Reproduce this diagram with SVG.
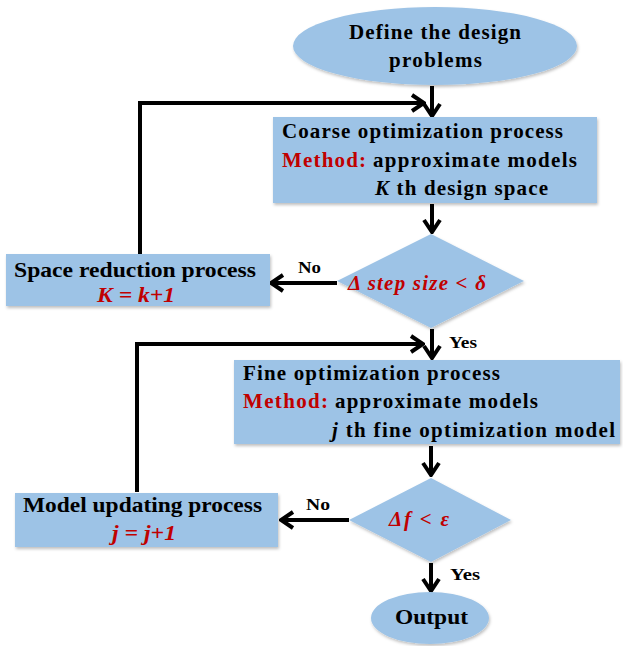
<svg xmlns="http://www.w3.org/2000/svg" width="623" height="646" viewBox="0 0 623 646">
<defs>
<style>
.shape{fill:#9DC3E6;filter:url(#sh)}
.t{font-family:"Liberation Serif","Times New Roman",serif;font-weight:bold;font-size:21px;fill:#000}
.b{font-size:22px}
.s{font-family:"Liberation Serif","Times New Roman",serif;font-weight:bold;font-size:16px;fill:#000}
.r{fill:#C00000}
.i{font-style:italic}
.ln{fill:none;stroke:#000;stroke-width:4}
</style>
<filter id="sh" x="-10%" y="-10%" width="120%" height="130%">
<feDropShadow dx="1" dy="2" stdDeviation="1.5" flood-color="#000" flood-opacity="0.25"/>
</filter>
<marker id="ah" viewBox="0 0 16 20" markerWidth="16" markerHeight="20" refX="14" refY="10" orient="auto" markerUnits="userSpaceOnUse">
<path d="M2,2 L14,10 L2,18" fill="none" stroke="#000" stroke-width="4" stroke-linejoin="miter"/>
</marker>
</defs>
<rect width="623" height="646" fill="#fff"/>

<g id="connectors">
<line class="ln" x1="432" y1="86" x2="432" y2="116" marker-end="url(#ah)"/>
<polyline class="ln" points="140,254 140,103 424,103" marker-end="url(#ah)"/>
<line class="ln" x1="432" y1="204" x2="432" y2="232" marker-end="url(#ah)"/>
<line class="ln" x1="337" y1="283" x2="271" y2="283" marker-end="url(#ah)"/>
<line class="ln" x1="432" y1="329" x2="432" y2="358" marker-end="url(#ah)"/>
<polyline class="ln" points="137,492 137,344 423,344" marker-end="url(#ah)"/>
<line class="ln" x1="431" y1="446" x2="431" y2="475" marker-end="url(#ah)"/>
<line class="ln" x1="349" y1="520" x2="281" y2="520" marker-end="url(#ah)"/>
<line class="ln" x1="431" y1="563" x2="431" y2="591" marker-end="url(#ah)"/>
<text class="s" x="298" y="273" textLength="23" lengthAdjust="spacingAndGlyphs">No</text>
<text class="s" x="449" y="348" textLength="28" lengthAdjust="spacingAndGlyphs">Yes</text>
<text class="s" x="306" y="510" textLength="24" lengthAdjust="spacingAndGlyphs">No</text>
<text class="s" x="450" y="580" textLength="30" lengthAdjust="spacingAndGlyphs">Yes</text>
</g>

<g id="start">
<ellipse class="shape" cx="435" cy="46" rx="142" ry="39"/>
<text class="t" x="349" y="39" textLength="172" lengthAdjust="spacing">Define the design</text>
<text class="t" x="389" y="67" textLength="93" lengthAdjust="spacing">problems</text>
</g>

<g id="coarse">
<rect class="shape" x="273" y="117" width="324" height="86"/>
<text class="t" x="282" y="138" textLength="281" lengthAdjust="spacing">Coarse optimization process</text>
<text class="t r" x="282" y="167" textLength="84" lengthAdjust="spacing">Method:</text>
<text class="t" x="373" y="167" textLength="204" lengthAdjust="spacing">approximate models</text>
<text class="t" x="375" y="195" textLength="173" lengthAdjust="spacing"><tspan class="i">K</tspan> th design space</text>
</g>

<g id="decision1">
<polygon class="shape" points="431,234 524,281 431,328 337,281"/>
<text class="t r i" x="348" y="290" textLength="138" lengthAdjust="spacing">Δ step size &lt; δ</text>
</g>

<g id="space-reduction">
<rect class="shape" x="6" y="254" width="264" height="52"/>
<text class="t b" x="14" y="277" textLength="242" lengthAdjust="spacingAndGlyphs">Space reduction process</text>
<text class="t b r i" x="97" y="302" textLength="78" lengthAdjust="spacingAndGlyphs">K = k+1</text>
</g>

<g id="fine">
<rect class="shape" x="234" y="360" width="386" height="84"/>
<text class="t" x="243" y="380" textLength="257" lengthAdjust="spacing">Fine optimization process</text>
<text class="t r" x="243" y="408" textLength="85" lengthAdjust="spacing">Method:</text>
<text class="t" x="335" y="408" textLength="203" lengthAdjust="spacing">approximate models</text>
<text class="t" x="332" y="437" textLength="283" lengthAdjust="spacing"><tspan class="i">j</tspan> th fine optimization model</text>
</g>

<g id="decision2">
<polygon class="shape" points="431,478 511,520 431,562 349,520"/>
<text class="t r i" x="389" y="526" textLength="60" lengthAdjust="spacing">Δf &lt; ε</text>
</g>

<g id="model-updating">
<rect class="shape" x="15" y="493" width="263" height="54"/>
<text class="t b" x="23" y="512" textLength="239" lengthAdjust="spacingAndGlyphs">Model updating process</text>
<text class="t b r i" x="112" y="540" textLength="64" lengthAdjust="spacingAndGlyphs">j = j+1</text>
</g>

<g id="output">
<ellipse class="shape" cx="430" cy="618" rx="59" ry="26"/>
<text class="t b" x="395" y="624" textLength="73" lengthAdjust="spacingAndGlyphs">Output</text>
</g>
</svg>
